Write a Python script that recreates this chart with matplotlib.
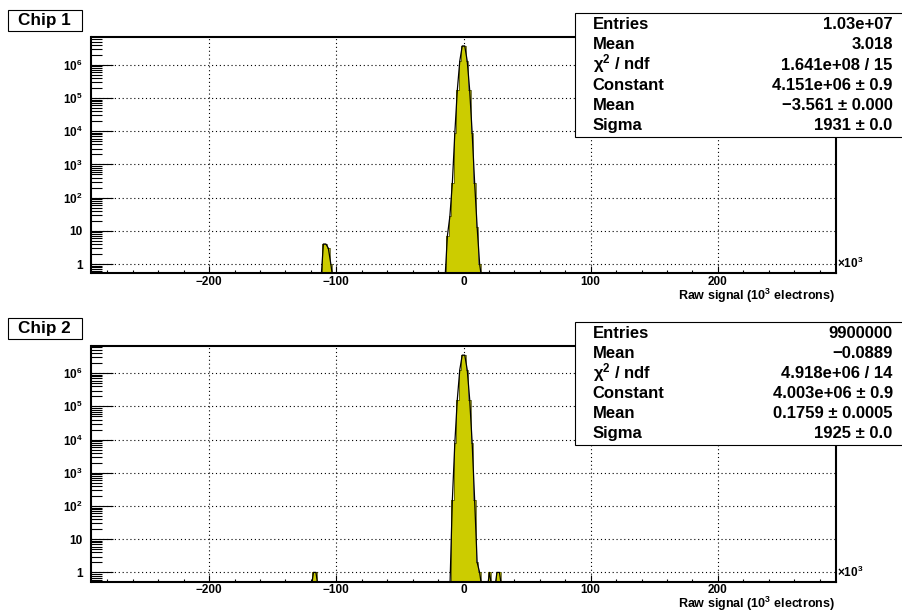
import numpy as np
import matplotlib.pyplot as plt
from matplotlib.patches import Rectangle
from matplotlib.ticker import MultipleLocator, FixedLocator, NullFormatter, FuncFormatter

plt.rcParams["font.family"] = ["Liberation Sans", "DejaVu Sans"]
plt.rcParams["font.weight"] = "bold"
plt.rcParams["mathtext.fontset"] = "custom"
plt.rcParams["mathtext.rm"] = "Liberation Sans:bold"
plt.rcParams["mathtext.bf"] = "Liberation Sans:bold"
plt.rcParams["mathtext.it"] = "Liberation Sans:italic"
plt.rcParams["mathtext.default"] = "rm"

# histogram binning, in 10^3 electrons
x_lo, x_hi, n_bins = -292.5, 292.5, 300

# non-empty bins: lower edge and content
chip1_bins = [-111.15, -109.2, -107.25, -105.3,
              -13.65, -11.7, -9.75, -7.8, -5.85, -3.9, -1.95,
              0.0, 1.95, 3.9, 5.85, 7.8, 9.75, 11.7]
chip1_counts = [4, 4, 3, 1,
                7, 27, 270, 8700, 1.7e5, 1.3e6, 3.7e6,
                3.7e6, 1.3e6, 1.7e5, 8700, 270, 13, 1]

chip2_bins = [-118.95, -117.0,
              -9.75, -7.8, -5.85, -3.9, -1.95,
              0.0, 1.95, 3.9, 5.85, 7.8, 9.75, 11.7,
              19.5, 25.35, 27.3]
chip2_counts = [1, 1,
                147, 7800, 1.6e5, 1.27e6, 3.5e6,
                3.5e6, 1.27e6, 1.6e5, 7800, 147, 2, 1,
                1, 1, 1]

chip_titles = ["Chip 1", "Chip 2"]
stat_names = ["Entries", "Mean", "$\\chi^{2}$ / ndf", "Constant", "Mean", "Sigma"]
chip1_stats = ["1.03e+07", "3.018", "1.641e+08 / 15",
               "4.151e+06 \u00b1 0.9", "\u22123.561 \u00b1 0.000", "1931 \u00b1 0.0"]
chip2_stats = ["9900000", "\u22120.0889", "4.918e+06 / 14",
               "4.003e+06 \u00b1 0.9", "0.1759 \u00b1 0.0005", "1925 \u00b1 0.0"]

y_decades = [1, 10, 1e2, 1e3, 1e4, 1e5, 1e6]
x_title = "Raw signal (10$^{3}$ electrons)"
fill_color = "#cccc00"

W, H = 903, 615


def fx(x):
    return x / W


def fy(y):
    return 1 - y / H


def log_label(v, pos):
    if v == 1:
        return "1"
    if v == 10:
        return "10"
    return "$10^{%d}$" % int(round(np.log10(v)))


def draw_panel(fig, dy, lows, counts, title, stats):
    ax = fig.add_axes([fx(91.5), fy(273.3 + dy), fx(835.5) - fx(91.5), 236.0 / H])

    edges = np.linspace(x_lo, x_hi, n_bins + 1)
    width = edges[1] - edges[0]
    h = np.zeros(n_bins)
    idx = np.rint((np.asarray(lows) - x_lo) / width).astype(int)
    h[idx] = counts
    centers = 0.5 * (edges[:-1] + edges[1:])

    ax.set_yscale("log")
    ax.stairs(np.maximum(h, 1e-3), edges, fill=True, color=fill_color,
              baseline=1e-3, zorder=2)
    ax.stairs(h, edges, color="#4a4a00", lw=0.5, baseline=None, zorder=3)
    ax.plot(centers, np.where(h > 0, h, 0.3), color="black", lw=0.9, zorder=4)

    ax.set_xlim(x_lo, x_hi)
    ax.set_ylim(0.525, 6.73e6)

    minors = [m * d for d in [0.1] + y_decades for m in range(2, 10)]
    minors = [m for m in minors if 0.525 < m < 6.73e6]
    ax.xaxis.set_major_locator(MultipleLocator(100))
    ax.xaxis.set_minor_locator(MultipleLocator(20))
    ax.yaxis.set_major_locator(FixedLocator(y_decades))
    ax.yaxis.set_minor_locator(FixedLocator(minors))
    ax.yaxis.set_minor_formatter(NullFormatter())
    ax.yaxis.set_major_formatter(FuncFormatter(log_label))

    ax.tick_params(axis="x", which="major", direction="in", length=5, width=0.8,
                   labelsize=8.5, pad=2.0, top=False)
    ax.tick_params(axis="x", which="minor", direction="in", length=2.5, width=0.8, top=False)
    ax.tick_params(axis="y", which="major", direction="in", length=15.8, width=0.8,
                   labelsize=8.5, pad=6.5, right=False)
    ax.tick_params(axis="y", which="minor", direction="in", length=8, width=0.8, right=False)
    for lab in ax.get_xticklabels() + ax.get_yticklabels():
        lab.set_fontweight("bold")

    ax.grid(True, which="major", color="black", lw=0.8, ls=(0, (1, 2.5)))
    ax.set_axisbelow(True)
    for s in ax.spines.values():
        s.set_linewidth(1.5)
        s.set_zorder(5)

    # axis title and multiplier
    fig.text(fx(835), fy(300 + dy), x_title, ha="right", va="baseline", fontsize=9)
    fig.text(fx(837), fy(268.5 + dy), "\u00d710$^{3}$", ha="left", va="baseline", fontsize=8.5)

    # title box with shadow
    fig.add_artist(Rectangle((fx(8.7), fy(31.9 + dy)), fx(74.5), 21.0 / H,
                             transform=fig.transFigure, facecolor="black",
                             edgecolor="none", zorder=6))
    fig.add_artist(Rectangle((fx(7.5), fy(30.7 + dy)), fx(74.5), 21.0 / H,
                             transform=fig.transFigure, facecolor="white",
                             edgecolor="black", lw=0.8, zorder=7))
    fig.text(fx(44.7), fy(20.2 + dy), title, ha="center", va="center",
             fontsize=12.3, zorder=8)

    # stats box
    fig.add_artist(Rectangle((fx(575), fy(136.7 + dy)), fx(340), 123.4 / H,
                             transform=fig.transFigure, facecolor="white",
                             edgecolor="black", lw=0.8, zorder=6))
    for i, (name, val) in enumerate(zip(stat_names, stats)):
        yb = 29.3 + 20.14 * i + dy
        fig.text(fx(592.7), fy(yb), name, ha="left", va="baseline", fontsize=12, zorder=8)
        fig.text(fx(892.7), fy(yb), val, ha="right", va="baseline", fontsize=12, zorder=8)
    return ax


def main():
    fig = plt.figure(figsize=(9.03, 6.15), dpi=100, facecolor="white")
    draw_panel(fig, 0, chip1_bins, chip1_counts, chip_titles[0], chip1_stats)
    draw_panel(fig, 308.4, chip2_bins, chip2_counts, chip_titles[1], chip2_stats)
    fig.savefig("out.png", dpi=100, facecolor="white")


if __name__ == "__main__":
    main()
